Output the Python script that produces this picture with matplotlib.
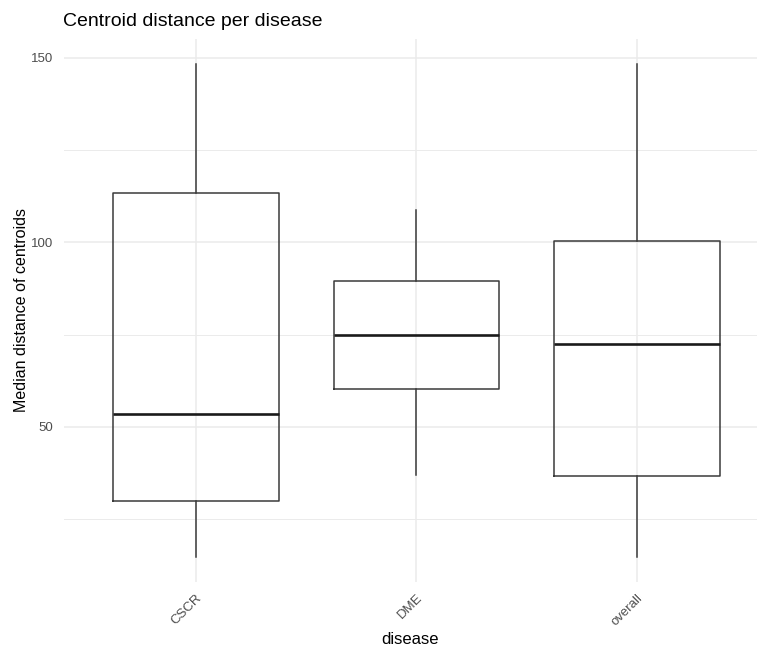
import matplotlib
matplotlib.use("Agg")
import matplotlib.pyplot as plt
from matplotlib.ticker import MultipleLocator

plt.rcParams['font.family'] = ['Liberation Sans', 'DejaVu Sans']

# box statistics
diseases = ['CSCR', 'DME', 'overall']
whisk_lo = [14.7, 37.0, 14.7]
q1 = [30.0, 60.2, 36.8]
median = [53.4, 75.0, 72.6]
q3 = [113.5, 89.6, 100.5]
whisk_hi = [148.4, 108.8, 148.4]

stats = []
for i in range(len(diseases)):
    stats.append({'label': diseases[i], 'whislo': whisk_lo[i], 'q1': q1[i],
                  'med': median[i], 'q3': q3[i], 'whishi': whisk_hi[i], 'fliers': []})

W, H = 757, 646
fig = plt.figure(figsize=(W / 100, H / 100), dpi=100)
ax = fig.add_axes([63.7 / W, 1 - 582 / H, 1 - 63.7 / W, (582 - 39) / H])

line_col = '#3a3a3a'
ax.bxp(stats, positions=[1, 2, 3], widths=0.75, showfliers=False, showcaps=False,
       boxprops=dict(color=line_col, linewidth=1.1),
       whiskerprops=dict(color=line_col, linewidth=1.1),
       medianprops=dict(color='#1a1a1a', linewidth=1.9))

ax.set_xlim(0.4, 3.545)
ax.set_ylim(8.0, 155.1)
ax.yaxis.set_major_locator(MultipleLocator(50))
ax.yaxis.set_minor_locator(MultipleLocator(25))
ax.grid(which='major', color='#ebebeb', linewidth=1.1)
ax.grid(which='minor', axis='y', color='#ebebeb', linewidth=0.7)
ax.set_axisbelow(True)
for s in ax.spines.values():
    s.set_visible(False)
ax.tick_params(which='both', length=0, colors='#4d4d4d', labelsize=9.5)
ax.tick_params(axis='y', pad=7.5)
ax.set_xticks([1, 2, 3])
ax.set_xticklabels(diseases, rotation=45, ha='right', rotation_mode='anchor')
ax.tick_params(axis='x', pad=7)

ax.set_xlabel('disease', fontsize=12, color='black')
ax.xaxis.label.set_verticalalignment('center')
ax.xaxis.set_label_coords(0.5, 1 - (639 - 39) / (582 - 39))
ax.set_ylabel('Median distance of centroids', fontsize=11.5, color='black')
ax.yaxis.label.set_verticalalignment('center')
ax.yaxis.set_label_coords(-(63.7 - 22) / (W - 63.7), 1 - (310 - 39) / (582 - 39))
fig.text(63 / W, 1 - 21.5 / H, 'Centroid distance per disease', fontsize=14,
         ha='left', va='center', color='black')

fig.savefig('out.png', dpi=100)
